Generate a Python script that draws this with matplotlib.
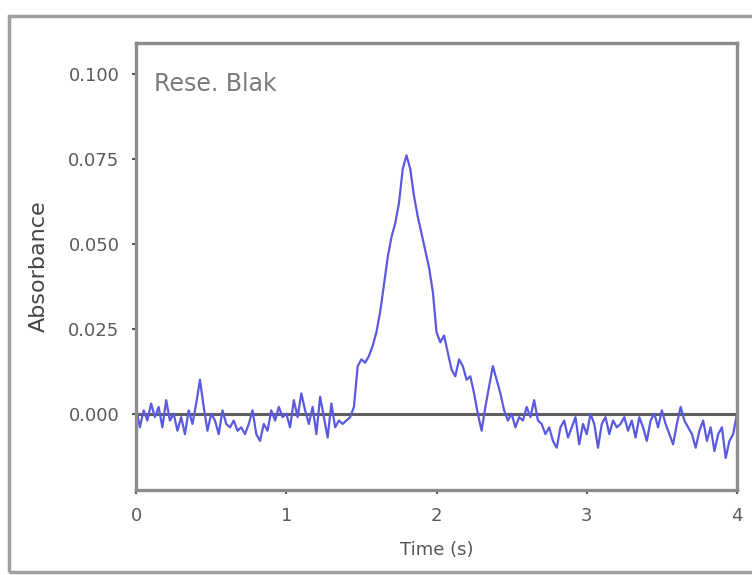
import numpy as np
import matplotlib.pyplot as plt
from matplotlib.patches import Rectangle

# =========================================================
# DATA
# =========================================================

time_step = 0.025  # s between samples

absorbance = [
    0.002, -0.004, 0.001, -0.002, 0.003, -0.001, 0.002, -0.004, 0.004, -0.002,
    0.000, -0.005, -0.001, -0.006, 0.001, -0.003, 0.003, 0.010, 0.002, -0.005,
    0.000, -0.002, -0.006, 0.001, -0.003, -0.004, -0.002, -0.005, -0.004, -0.006,
    -0.003, 0.001, -0.006, -0.008, -0.003, -0.005, 0.001, -0.002, 0.002, -0.001,
    0.000, -0.004, 0.004, -0.001, 0.006, 0.001, -0.003, 0.002, -0.006, 0.005,
    -0.001, -0.007, 0.003, -0.004, -0.002, -0.003, -0.002, -0.001, 0.002, 0.014,
    0.016, 0.015, 0.017, 0.020, 0.024, 0.030, 0.038, 0.046, 0.052, 0.056,
    0.062, 0.072, 0.076, 0.072, 0.064, 0.058, 0.053, 0.048, 0.043, 0.036,
    0.024, 0.021, 0.023, 0.018, 0.013, 0.011, 0.016, 0.014, 0.010, 0.011,
    0.006, 0.000, -0.005, 0.002, 0.008, 0.014, 0.010, 0.006, 0.001, -0.002,
    0.000, -0.004, -0.001, -0.002, 0.002, -0.001, 0.004, -0.002, -0.003, -0.006,
    -0.004, -0.008, -0.010, -0.004, -0.002, -0.007, -0.004, -0.001, -0.009, -0.003,
    -0.006, 0.000, -0.003, -0.010, -0.003, -0.001, -0.006, -0.002, -0.004, -0.003,
    -0.001, -0.005, -0.002, -0.007, -0.001, -0.004, -0.008, -0.002, 0.000, -0.004,
    0.001, -0.003, -0.006, -0.009, -0.003, 0.002, -0.002, -0.004, -0.006, -0.010,
    -0.005, -0.002, -0.008, -0.004, -0.011, -0.006, -0.004, -0.013, -0.008, -0.006,
    0.000,
]

time = np.arange(len(absorbance)) * time_step

x_ticks = [0, 1, 2, 3, 4]
y_ticks = [0.000, 0.025, 0.050, 0.075, 0.100]
y_tick_labels = ["0.000", "0.025", "0.050", "0.075", "0.100"]

# =========================================================
# FIGURE
# =========================================================

plt.rcParams["font.family"] = ["DejaVu Sans"]

fig = plt.figure(figsize=(7.52, 5.75), dpi=100)

# outer frame of the panel
fig.patches.append(
    Rectangle((0.012, 0.005), 1.1, 0.968, transform=fig.transFigure,
              fill=False, edgecolor="#a0a0a0", linewidth=2.5)
)

ax = fig.add_axes([0.181, 0.148, 0.799, 0.777])

ax.axhline(0, color="#5e5e5e", linewidth=2.2, zorder=1)

ax.plot(time, absorbance, color="#5a5ae0", linewidth=1.6, zorder=2)

ax.set_xlim(0, 4)
ax.set_ylim(-0.0224, 0.109)

ax.set_xticks(x_ticks)
ax.set_yticks(y_ticks)
ax.set_yticklabels(y_tick_labels)

ax.tick_params(direction="out", length=3, width=1.5, color="#555555",
               labelsize=13, labelcolor="#5a5a5a", pad=9)

for spine in ax.spines.values():
    spine.set_color("#8c8c8c")
    spine.set_linewidth(2.4)

ax.set_xlabel("Time (s)", fontsize=13, color="#555555", labelpad=12)
ax.set_ylabel("Absorbance", fontsize=16, color="#444444", labelpad=14)

ax.text(0.03, 0.935, "Rese. Blak", transform=ax.transAxes,
        fontsize=17, color="#7a7a7a", va="top", ha="left")

fig.savefig("out.png", dpi=100)
